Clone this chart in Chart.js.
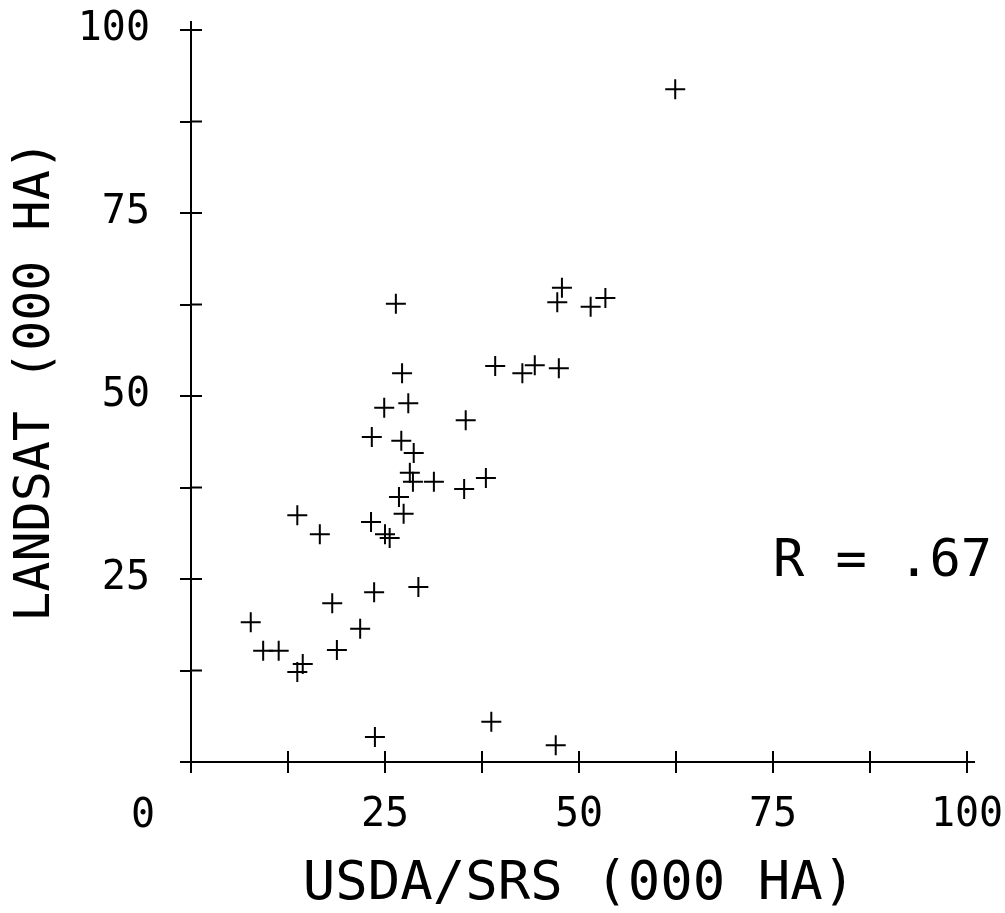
<!DOCTYPE html>
<html>
<head>
<meta charset="utf-8">
<script src="https://cdn.jsdelivr.net/npm/chart.js@4.4.1/dist/chart.umd.min.js"></script>
<style>
  html, body { margin: 0; padding: 0; background: #fff; }
  #wrap { width: 1005px; height: 913px; }
</style>
</head>
<body>
<div id="wrap"><canvas id="chart"></canvas></div>
<script>
// USDA/SRS vs LANDSAT, thousand hectares
const usdaSrs = [62.4, 26.4, 27.2, 28.0, 24.9, 35.4, 23.3, 27.1, 28.7, 28.2,
                 28.6, 31.3, 35.2, 38.0, 26.8, 27.4, 13.7, 23.2, 16.6, 25.0,
                 25.6, 7.7, 9.3, 11.3, 13.7, 14.4, 18.2, 18.8, 21.8, 23.6,
                 29.3, 23.7, 38.7, 47.0, 39.2, 42.7, 44.3, 47.4, 47.8, 47.2,
                 51.5, 53.4]
const landsat = [91.9, 62.6, 53.1, 49.0, 48.4, 46.7, 44.4, 43.9, 42.2, 39.5,
                 38.3, 38.3, 37.3, 38.8, 36.2, 33.9, 33.7, 32.8, 31.1, 31.1,
                 30.6, 19.1, 15.2, 15.2, 12.3, 13.4, 21.7, 15.3, 18.2, 23.2,
                 23.9, 3.4, 5.5, 2.3, 54.1, 53.1, 54.2, 53.8, 64.8, 62.8,
                 62.2, 63.4]

const xTickLabels = [25, 50, 75, 100]
const yTickLabels = [25, 50, 75, 100]
const xTitle = "USDA/SRS (000 HA)"
const yTitle = " LANDSAT (000 HA)"
const rText  = "R = .67"
const rAt    = { x: 75, y: 27.2 }

const FONT = "'DejaVu Sans Mono', monospace"
const INK  = "#000"
const TICK = 11

const points = usdaSrs.map((x, i) => ({ x, y: landsat[i] }))

// tick marks cross the axes, plus the corner "0" and the R annotation
const plotterBits = {
  id: "plotterBits",
  afterDraw(chart) {
    const { ctx, scales: { x, y } } = chart
    ctx.save()
    ctx.strokeStyle = INK
    ctx.lineWidth   = 2

    ctx.beginPath()
    x.ticks.forEach(t => {
      const px = x.getPixelForValue(t.value)
      ctx.moveTo(px, x.top)
      ctx.lineTo(px, x.top - TICK)
    })
    y.ticks.forEach(t => {
      const py = y.getPixelForValue(t.value)
      ctx.moveTo(y.right, py)
      ctx.lineTo(y.right + TICK, py)
    })
    // axis overshoot
    ctx.moveTo(x.right, x.top)
    ctx.lineTo(x.right + 8, x.top)
    ctx.moveTo(y.right, y.top)
    ctx.lineTo(y.right, y.top - 9)
    ctx.stroke()

    ctx.fillStyle    = INK
    ctx.textBaseline = "middle"
    ctx.textAlign    = "center"
    ctx.font = `40px ${FONT}`
    ctx.fillText("0", x.getPixelForValue(0) - 48, x.top + 55)

    ctx.textAlign = "left"
    ctx.font = `52px ${FONT}`
    ctx.fillText(rText, x.getPixelForValue(rAt.x), y.getPixelForValue(rAt.y))
    ctx.restore()
  },
}

new Chart(document.getElementById("chart"), {
  type: "scatter",
  data: {
    datasets: [{
      data:        points,
      pointStyle:  "cross",
      pointRadius: 10,
      borderColor: INK,
      borderWidth: 2,
      clip:        false,
    }],
  },
  options: {
    responsive:          true,
    maintainAspectRatio: false,
    animation:           false,
    layout: { padding: { top: 30, right: 38, left: 0, bottom: 0 } },
    plugins: {
      legend:  { display: false },
      tooltip: { enabled: false },
    },
    scales: {
      x: {
        type: "linear",
        min: 0, max: 100,
        afterFit: s => { s.height = 151; s.paddingLeft = 0; s.paddingRight = 0 },
        border: { display: true, color: INK, width: 2 },
        grid: { drawOnChartArea: false, drawTicks: true, tickLength: TICK, color: INK, lineWidth: 2 },
        ticks: {
          stepSize: 12.5,
          maxRotation: 0,
          autoSkip: false,
          padding: 19,
          color: INK,
          font: { family: FONT, size: 40 },
          callback: v => xTickLabels.includes(v) ? String(v) : "",
        },
        title: {
          display: true,
          text: xTitle,
          color: INK,
          font: { family: FONT, size: 54 },
          padding: { top: 0, bottom: -4 },
        },
      },
      y: {
        type: "linear",
        min: 0, max: 100,
        afterFit: s => { s.width = 191; s.paddingTop = 0; s.paddingBottom = 0 },
        border: { display: true, color: INK, width: 2 },
        grid: { drawOnChartArea: false, drawTicks: true, tickLength: TICK, color: INK, lineWidth: 2 },
        ticks: {
          stepSize: 12.5,
          autoSkip: false,
          padding: 30,
          color: INK,
          font: { family: FONT, size: 40 },
          callback: v => yTickLabels.includes(v) ? String(v) : "",
        },
        title: {
          display: true,
          text: yTitle,
          color: INK,
          font: { family: FONT, size: 50 },
          padding: { top: 6, bottom: 0 },
        },
      },
    },
  },
  plugins: [plotterBits],
})
</script>
</body>
</html>
